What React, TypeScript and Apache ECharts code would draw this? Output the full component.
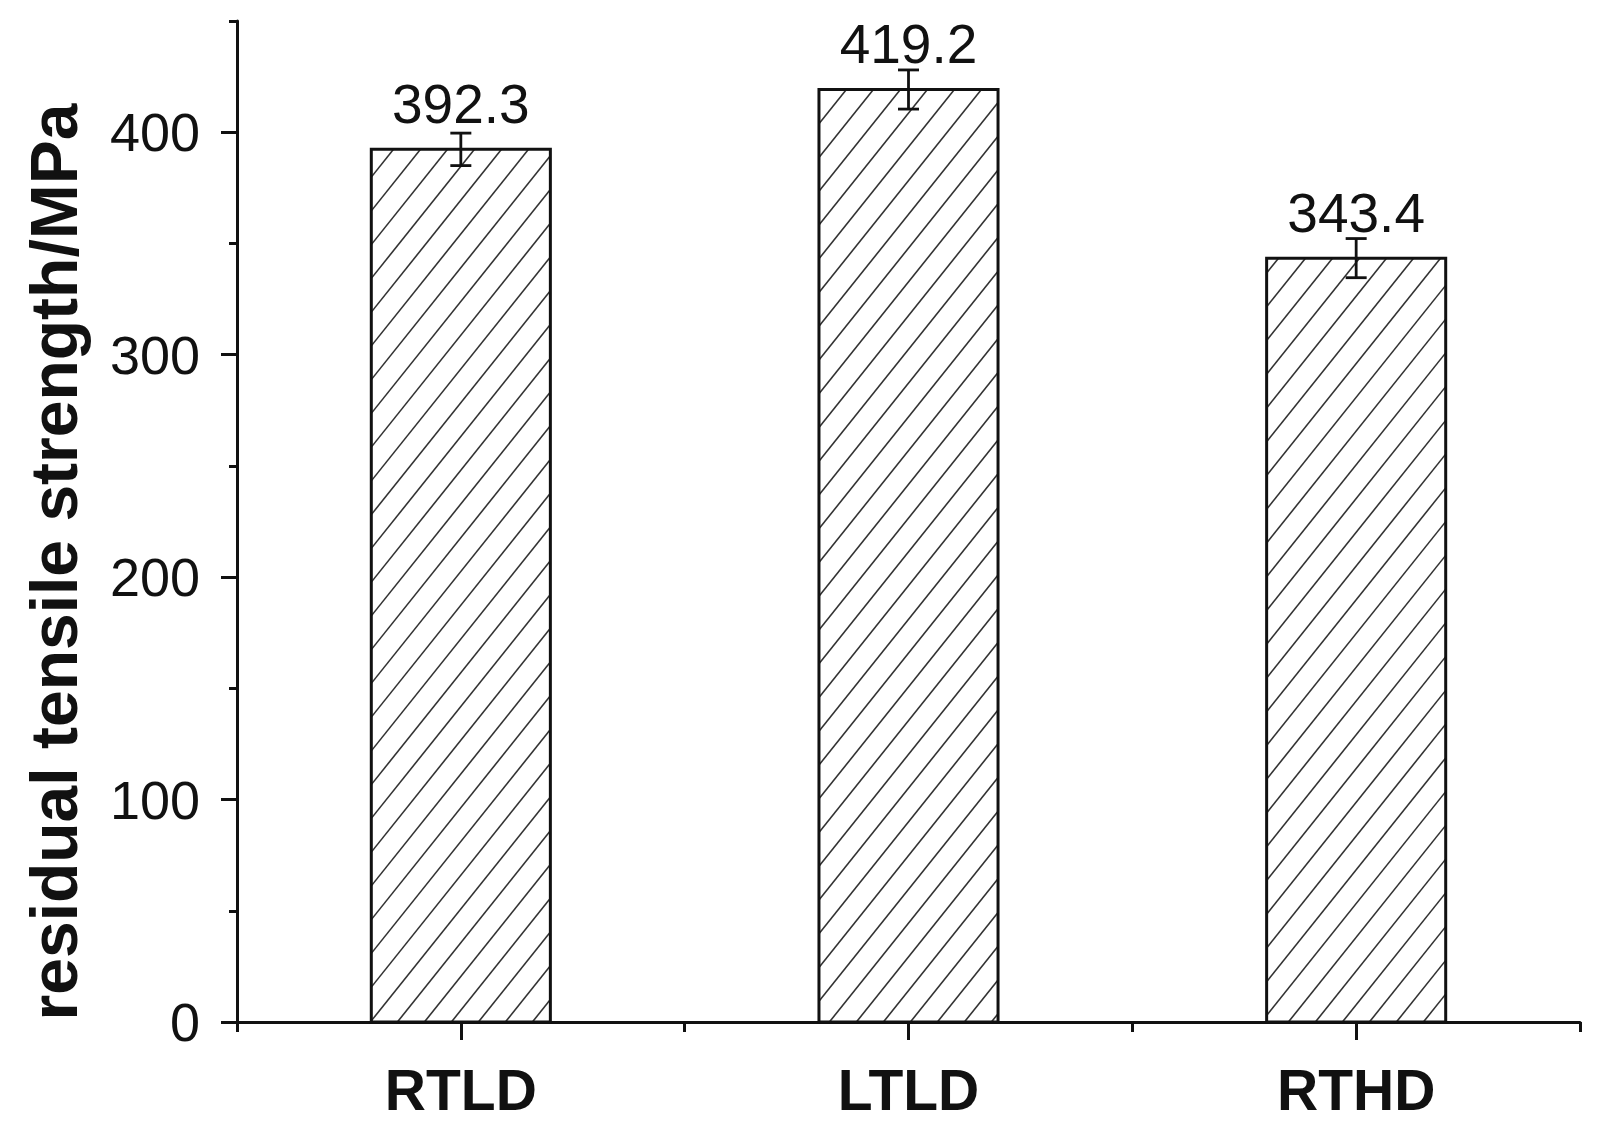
import React, { useEffect, useRef } from "react";
import * as echarts from "echarts";

const categories = ["RTLD", "LTLD", "RTHD"];
const strengths = [392.3, 419.2, 343.4];
const errors = [7.3, 8.8, 8.8];
const valueLabels = ["392.3", "419.2", "343.4"];
const yMajorTicks = [0, 100, 200, 300, 400];
const yTitle = "residual tensile strength/MPa";

const FONT = "'Liberation Sans', Arial, sans-serif";
const INK = "#111";

function renderBar(params: any, api: any) {
  const idx = api.value(0);
  const val = api.value(1);
  const err = api.value(2);
  const top = api.coord([idx, val]);
  const bottom = api.coord([idx, 0]);
  const band = api.size([1, 0])[0];
  const w = band * 0.4;
  const x0 = top[0] - w / 2;
  const y0 = top[1];
  const h = bottom[1] - top[1];
  const children: any[] = [];
  children.push({
    type: "rect",
    shape: { x: x0, y: y0, width: w, height: h },
    style: { fill: "#fff", stroke: "none" },
  });
  // hatch lines "/"
  const k = 1.25;
  const s = 27;
  const cMin = k * x0 + y0;
  const cMax = k * (x0 + w) + y0 + h;
  const start = Math.ceil(cMin / (k * s)) * (k * s);
  for (let c = start; c <= cMax; c += k * s) {
    const xa = Math.max(x0, (c - y0 - h) / k);
    const xb = Math.min(x0 + w, (c - y0) / k);
    if (xb <= xa) continue;
    children.push({
      type: "line",
      shape: { x1: xa, y1: c - k * xa, x2: xb, y2: c - k * xb },
      style: { stroke: "#333", lineWidth: 1.6 },
    });
  }
  children.push({
    type: "rect",
    shape: { x: x0, y: y0, width: w, height: h },
    style: { fill: "none", stroke: INK, lineWidth: 3 },
  });
  const eTop = api.coord([idx, val + err]);
  const eBot = api.coord([idx, val - err]);
  const cap = 10.5;
  children.push({
    type: "line",
    shape: { x1: eTop[0], y1: eTop[1], x2: eBot[0], y2: eBot[1] },
    style: { stroke: INK, lineWidth: 2.8 },
  });
  children.push({
    type: "line",
    shape: { x1: eTop[0] - cap, y1: eTop[1], x2: eTop[0] + cap, y2: eTop[1] },
    style: { stroke: INK, lineWidth: 2.8 },
  });
  children.push({
    type: "line",
    shape: { x1: eBot[0] - cap, y1: eBot[1], x2: eBot[0] + cap, y2: eBot[1] },
    style: { stroke: INK, lineWidth: 2.8 },
  });
  children.push({
    type: "text",
    x: top[0],
    y: top[1] - 18,
    style: {
      text: valueLabels[params.dataIndex],
      fill: INK,
      fontSize: 55,
      fontFamily: FONT,
      align: "center",
      verticalAlign: "bottom",
    },
  });
  return { type: "group", children };
}

export default function App() {
  const ref = useRef<HTMLDivElement>(null);
  useEffect(() => {
    if (!ref.current) return;
    const chart = echarts.init(ref.current, undefined, { renderer: "svg" });
    const axisLineStyle = { color: INK, width: 3 };
    chart.setOption({
      animation: false,
      backgroundColor: "#fff",
      grid: { left: 237, right: 22, top: 21, bottom: 112 },
      xAxis: [
        {
          type: "category",
          data: categories,
          position: "bottom",
          axisLine: { show: true, onZero: false, lineStyle: axisLineStyle },
          axisTick: { show: true, length: 10, lineStyle: { color: INK, width: 3 } },
          axisLabel: {
            fontSize: 57,
            fontWeight: "bold",
            fontFamily: FONT,
            color: INK,
            margin: 39,
          },
          splitLine: { show: false },
        },
        {
          type: "category",
          data: categories,
          position: "bottom",
          axisLine: { show: false, onZero: false },
          axisTick: { show: true, alignWithLabel: true, length: 18, lineStyle: { color: INK, width: 3 } },
          axisLabel: { show: false },
          splitLine: { show: false },
        },
      ],
      yAxis: [
        {
          type: "value",
          min: 0,
          max: 450,
          interval: 50,
          position: "left",
          axisLine: { show: true, onZero: false, lineStyle: axisLineStyle },
          axisTick: { show: true, length: 8, lineStyle: { color: INK, width: 3 } },
          axisLabel: { show: false },
          splitLine: { show: false },
        },
        {
          type: "value",
          min: 0,
          max: 450,
          interval: 50,
          position: "left",
          axisLine: { show: false, onZero: false },
          axisTick: { show: true, length: 16, customValues: yMajorTicks, lineStyle: { color: INK, width: 3 } },
          axisLabel: {
            show: true,
            customValues: yMajorTicks,
            fontSize: 54,
            fontFamily: FONT,
            color: INK,
            margin: 37,
          },
          splitLine: { show: false },
        },
      ],
      graphic: [
        {
          type: "text",
          x: 54,
          y: 562,
          rotation: Math.PI / 2,
          style: {
            text: yTitle,
            fill: INK,
            fontSize: 66,
            fontWeight: "bold",
            fontFamily: FONT,
            align: "center",
            verticalAlign: "middle",
          },
        },
      ],
      series: [
        {
          type: "custom",
          xAxisIndex: 0,
          yAxisIndex: 0,
          renderItem: renderBar,
          encode: { x: 0, y: 1 },
          data: categories.map((c, i) => [i, strengths[i], errors[i]]),
          z: 1,
        },
      ],
    });
    return () => chart.dispose();
  }, []);
  return (
    <div
      ref={ref}
      style={{ position: "fixed", left: 0, top: 0, width: 1602, height: 1134 }}
    />
  );
}
